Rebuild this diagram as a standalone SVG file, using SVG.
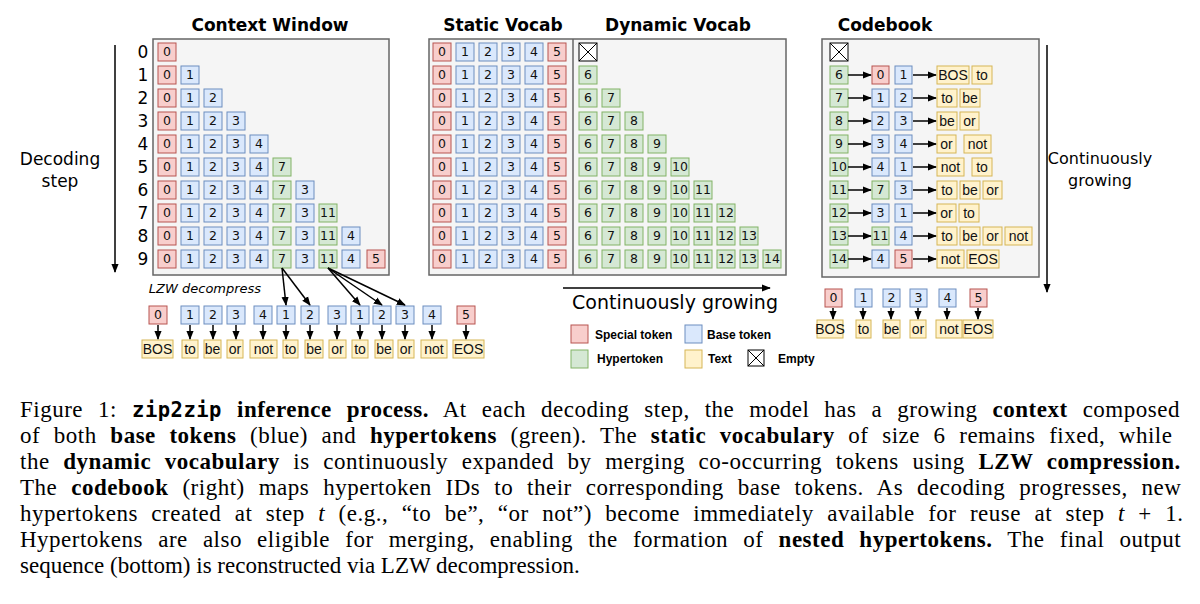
<svg xmlns="http://www.w3.org/2000/svg" width="1200" height="604" viewBox="0 0 1200 604">
<defs>
<style>
.r{fill:#f8cecc;stroke:#b85450}.b{fill:#dae8fc;stroke:#6c8ebf}.g{fill:#d5e8d4;stroke:#82b366}.y{fill:#fff2cc;stroke:#d6b656}
.box{fill:#f5f5f5;stroke:#666;stroke-width:1.5}
text{font-family:"DejaVu Sans",sans-serif}
.c{font-size:12.5px;text-anchor:middle;fill:#111}
.t{font-size:14px;text-anchor:middle;fill:#111;font-family:"Liberation Sans",sans-serif}
.h{font-size:17px;font-weight:bold;text-anchor:middle}
.n{font-size:17px;text-anchor:middle}
text.cap{font-family:"Liberation Serif",serif;font-size:23px;letter-spacing:0.5px}
.mono{font-family:"DejaVu Sans Mono",monospace;font-weight:bold;font-size:20.5px}
.ln{stroke:#000;stroke-width:1.5;fill:none}
</style>
<marker id="a" viewBox="0 0 10 10" refX="9" refY="5" markerWidth="6" markerHeight="6" orient="auto"><path d="M0,1L10,5L0,9z"/></marker>
</defs>
<rect width="1200" height="604" fill="#fff"/>
<g id="headings">
<text class="h" x="270" y="31">Context Window</text>
<text class="h" x="503" y="31">Static Vocab</text>
<text class="h" x="678" y="31">Dynamic Vocab</text>
<text class="h" x="885" y="31">Codebook</text>
<text class="n" x="60" y="165">Decoding</text><text class="n" x="60" y="187">step</text>
<text class="n" x="1100" y="164" style="font-size:16px">Continuously</text><text class="n" x="1100" y="186" style="font-size:16px">growing</text>
<text class="n" x="143" y="58">0</text><text class="n" x="143" y="81">1</text><text class="n" x="143" y="104">2</text><text class="n" x="143" y="127">3</text><text class="n" x="143" y="150">4</text><text class="n" x="143" y="173">5</text><text class="n" x="143" y="196">6</text><text class="n" x="143" y="219">7</text><text class="n" x="143" y="242">8</text><text class="n" x="143" y="265">9</text>
<text x="205" y="293" style="font-size:13px;font-style:italic" text-anchor="middle">LZW decompress</text>
<text class="n" x="675" y="309" style="font-size:19px">Continuously growing</text>
</g>
<g id="context-window">
<rect class="box" x="153" y="39" width="236" height="236"/>
<g id="cw-cells">
<rect class="r" x="158" y="43" width="18" height="18"/><text class="c" x="167" y="56">0</text>
<rect class="r" x="158" y="66" width="18" height="18"/><text class="c" x="167" y="79">0</text><rect class="b" x="181" y="66" width="18" height="18"/><text class="c" x="190" y="79">1</text>
<rect class="r" x="158" y="89" width="18" height="18"/><text class="c" x="167" y="102">0</text><rect class="b" x="181" y="89" width="18" height="18"/><text class="c" x="190" y="102">1</text><rect class="b" x="204" y="89" width="18" height="18"/><text class="c" x="213" y="102">2</text>
<rect class="r" x="158" y="112" width="18" height="18"/><text class="c" x="167" y="125">0</text><rect class="b" x="181" y="112" width="18" height="18"/><text class="c" x="190" y="125">1</text><rect class="b" x="204" y="112" width="18" height="18"/><text class="c" x="213" y="125">2</text><rect class="b" x="227" y="112" width="18" height="18"/><text class="c" x="236" y="125">3</text>
<rect class="r" x="158" y="135" width="18" height="18"/><text class="c" x="167" y="148">0</text><rect class="b" x="181" y="135" width="18" height="18"/><text class="c" x="190" y="148">1</text><rect class="b" x="204" y="135" width="18" height="18"/><text class="c" x="213" y="148">2</text><rect class="b" x="227" y="135" width="18" height="18"/><text class="c" x="236" y="148">3</text><rect class="b" x="250" y="135" width="18" height="18"/><text class="c" x="259" y="148">4</text>
<rect class="r" x="158" y="158" width="18" height="18"/><text class="c" x="167" y="171">0</text><rect class="b" x="181" y="158" width="18" height="18"/><text class="c" x="190" y="171">1</text><rect class="b" x="204" y="158" width="18" height="18"/><text class="c" x="213" y="171">2</text><rect class="b" x="227" y="158" width="18" height="18"/><text class="c" x="236" y="171">3</text><rect class="b" x="250" y="158" width="18" height="18"/><text class="c" x="259" y="171">4</text><rect class="g" x="273" y="158" width="18" height="18"/><text class="c" x="282" y="171">7</text>
<rect class="r" x="158" y="181" width="18" height="18"/><text class="c" x="167" y="194">0</text><rect class="b" x="181" y="181" width="18" height="18"/><text class="c" x="190" y="194">1</text><rect class="b" x="204" y="181" width="18" height="18"/><text class="c" x="213" y="194">2</text><rect class="b" x="227" y="181" width="18" height="18"/><text class="c" x="236" y="194">3</text><rect class="b" x="250" y="181" width="18" height="18"/><text class="c" x="259" y="194">4</text><rect class="g" x="273" y="181" width="18" height="18"/><text class="c" x="282" y="194">7</text><rect class="b" x="296" y="181" width="18" height="18"/><text class="c" x="305" y="194">3</text>
<rect class="r" x="158" y="204" width="18" height="18"/><text class="c" x="167" y="217">0</text><rect class="b" x="181" y="204" width="18" height="18"/><text class="c" x="190" y="217">1</text><rect class="b" x="204" y="204" width="18" height="18"/><text class="c" x="213" y="217">2</text><rect class="b" x="227" y="204" width="18" height="18"/><text class="c" x="236" y="217">3</text><rect class="b" x="250" y="204" width="18" height="18"/><text class="c" x="259" y="217">4</text><rect class="g" x="273" y="204" width="18" height="18"/><text class="c" x="282" y="217">7</text><rect class="b" x="296" y="204" width="18" height="18"/><text class="c" x="305" y="217">3</text><rect class="g" x="319" y="204" width="18" height="18"/><text class="c" x="328" y="217">11</text>
<rect class="r" x="158" y="227" width="18" height="18"/><text class="c" x="167" y="240">0</text><rect class="b" x="181" y="227" width="18" height="18"/><text class="c" x="190" y="240">1</text><rect class="b" x="204" y="227" width="18" height="18"/><text class="c" x="213" y="240">2</text><rect class="b" x="227" y="227" width="18" height="18"/><text class="c" x="236" y="240">3</text><rect class="b" x="250" y="227" width="18" height="18"/><text class="c" x="259" y="240">4</text><rect class="g" x="273" y="227" width="18" height="18"/><text class="c" x="282" y="240">7</text><rect class="b" x="296" y="227" width="18" height="18"/><text class="c" x="305" y="240">3</text><rect class="g" x="319" y="227" width="18" height="18"/><text class="c" x="328" y="240">11</text><rect class="b" x="342" y="227" width="18" height="18"/><text class="c" x="351" y="240">4</text>
<rect class="r" x="158" y="250" width="18" height="18"/><text class="c" x="167" y="263">0</text><rect class="b" x="181" y="250" width="18" height="18"/><text class="c" x="190" y="263">1</text><rect class="b" x="204" y="250" width="18" height="18"/><text class="c" x="213" y="263">2</text><rect class="b" x="227" y="250" width="18" height="18"/><text class="c" x="236" y="263">3</text><rect class="b" x="250" y="250" width="18" height="18"/><text class="c" x="259" y="263">4</text><rect class="g" x="273" y="250" width="18" height="18"/><text class="c" x="282" y="263">7</text><rect class="b" x="296" y="250" width="18" height="18"/><text class="c" x="305" y="263">3</text><rect class="g" x="319" y="250" width="18" height="18"/><text class="c" x="328" y="263">11</text><rect class="b" x="342" y="250" width="18" height="18"/><text class="c" x="351" y="263">4</text><rect class="r" x="367" y="250" width="18" height="18"/><text class="c" x="376" y="263">5</text>
</g>
</g>
<g id="vocab">
<rect class="box" x="429" y="39" width="357" height="236"/>
<line x1="573" y1="39" x2="573" y2="275" stroke="#666" stroke-width="1.5"/>
<g id="static">
<g transform="translate(0,0)"><rect class="r" x="433" y="43" width="18" height="18"/><text class="c" x="442" y="56">0</text><rect class="b" x="456" y="43" width="18" height="18"/><text class="c" x="465" y="56">1</text><rect class="b" x="479" y="43" width="18" height="18"/><text class="c" x="488" y="56">2</text><rect class="b" x="502" y="43" width="18" height="18"/><text class="c" x="511" y="56">3</text><rect class="b" x="525" y="43" width="18" height="18"/><text class="c" x="534" y="56">4</text><rect class="r" x="548" y="43" width="18" height="18"/><text class="c" x="557" y="56">5</text></g>
<g transform="translate(0,23)"><rect class="r" x="433" y="43" width="18" height="18"/><text class="c" x="442" y="56">0</text><rect class="b" x="456" y="43" width="18" height="18"/><text class="c" x="465" y="56">1</text><rect class="b" x="479" y="43" width="18" height="18"/><text class="c" x="488" y="56">2</text><rect class="b" x="502" y="43" width="18" height="18"/><text class="c" x="511" y="56">3</text><rect class="b" x="525" y="43" width="18" height="18"/><text class="c" x="534" y="56">4</text><rect class="r" x="548" y="43" width="18" height="18"/><text class="c" x="557" y="56">5</text></g>
<g transform="translate(0,46)"><rect class="r" x="433" y="43" width="18" height="18"/><text class="c" x="442" y="56">0</text><rect class="b" x="456" y="43" width="18" height="18"/><text class="c" x="465" y="56">1</text><rect class="b" x="479" y="43" width="18" height="18"/><text class="c" x="488" y="56">2</text><rect class="b" x="502" y="43" width="18" height="18"/><text class="c" x="511" y="56">3</text><rect class="b" x="525" y="43" width="18" height="18"/><text class="c" x="534" y="56">4</text><rect class="r" x="548" y="43" width="18" height="18"/><text class="c" x="557" y="56">5</text></g>
<g transform="translate(0,69)"><rect class="r" x="433" y="43" width="18" height="18"/><text class="c" x="442" y="56">0</text><rect class="b" x="456" y="43" width="18" height="18"/><text class="c" x="465" y="56">1</text><rect class="b" x="479" y="43" width="18" height="18"/><text class="c" x="488" y="56">2</text><rect class="b" x="502" y="43" width="18" height="18"/><text class="c" x="511" y="56">3</text><rect class="b" x="525" y="43" width="18" height="18"/><text class="c" x="534" y="56">4</text><rect class="r" x="548" y="43" width="18" height="18"/><text class="c" x="557" y="56">5</text></g>
<g transform="translate(0,92)"><rect class="r" x="433" y="43" width="18" height="18"/><text class="c" x="442" y="56">0</text><rect class="b" x="456" y="43" width="18" height="18"/><text class="c" x="465" y="56">1</text><rect class="b" x="479" y="43" width="18" height="18"/><text class="c" x="488" y="56">2</text><rect class="b" x="502" y="43" width="18" height="18"/><text class="c" x="511" y="56">3</text><rect class="b" x="525" y="43" width="18" height="18"/><text class="c" x="534" y="56">4</text><rect class="r" x="548" y="43" width="18" height="18"/><text class="c" x="557" y="56">5</text></g>
<g transform="translate(0,115)"><rect class="r" x="433" y="43" width="18" height="18"/><text class="c" x="442" y="56">0</text><rect class="b" x="456" y="43" width="18" height="18"/><text class="c" x="465" y="56">1</text><rect class="b" x="479" y="43" width="18" height="18"/><text class="c" x="488" y="56">2</text><rect class="b" x="502" y="43" width="18" height="18"/><text class="c" x="511" y="56">3</text><rect class="b" x="525" y="43" width="18" height="18"/><text class="c" x="534" y="56">4</text><rect class="r" x="548" y="43" width="18" height="18"/><text class="c" x="557" y="56">5</text></g>
<g transform="translate(0,138)"><rect class="r" x="433" y="43" width="18" height="18"/><text class="c" x="442" y="56">0</text><rect class="b" x="456" y="43" width="18" height="18"/><text class="c" x="465" y="56">1</text><rect class="b" x="479" y="43" width="18" height="18"/><text class="c" x="488" y="56">2</text><rect class="b" x="502" y="43" width="18" height="18"/><text class="c" x="511" y="56">3</text><rect class="b" x="525" y="43" width="18" height="18"/><text class="c" x="534" y="56">4</text><rect class="r" x="548" y="43" width="18" height="18"/><text class="c" x="557" y="56">5</text></g>
<g transform="translate(0,161)"><rect class="r" x="433" y="43" width="18" height="18"/><text class="c" x="442" y="56">0</text><rect class="b" x="456" y="43" width="18" height="18"/><text class="c" x="465" y="56">1</text><rect class="b" x="479" y="43" width="18" height="18"/><text class="c" x="488" y="56">2</text><rect class="b" x="502" y="43" width="18" height="18"/><text class="c" x="511" y="56">3</text><rect class="b" x="525" y="43" width="18" height="18"/><text class="c" x="534" y="56">4</text><rect class="r" x="548" y="43" width="18" height="18"/><text class="c" x="557" y="56">5</text></g>
<g transform="translate(0,184)"><rect class="r" x="433" y="43" width="18" height="18"/><text class="c" x="442" y="56">0</text><rect class="b" x="456" y="43" width="18" height="18"/><text class="c" x="465" y="56">1</text><rect class="b" x="479" y="43" width="18" height="18"/><text class="c" x="488" y="56">2</text><rect class="b" x="502" y="43" width="18" height="18"/><text class="c" x="511" y="56">3</text><rect class="b" x="525" y="43" width="18" height="18"/><text class="c" x="534" y="56">4</text><rect class="r" x="548" y="43" width="18" height="18"/><text class="c" x="557" y="56">5</text></g>
<g transform="translate(0,207)"><rect class="r" x="433" y="43" width="18" height="18"/><text class="c" x="442" y="56">0</text><rect class="b" x="456" y="43" width="18" height="18"/><text class="c" x="465" y="56">1</text><rect class="b" x="479" y="43" width="18" height="18"/><text class="c" x="488" y="56">2</text><rect class="b" x="502" y="43" width="18" height="18"/><text class="c" x="511" y="56">3</text><rect class="b" x="525" y="43" width="18" height="18"/><text class="c" x="534" y="56">4</text><rect class="r" x="548" y="43" width="18" height="18"/><text class="c" x="557" y="56">5</text></g>
</g>
<g id="dynamic">
<rect x="579" y="43" width="18" height="18" fill="#fff" stroke="#000"/><path d="M579,43L597,61M597,43L579,61" stroke="#000"/>
<rect class="g" x="579" y="66" width="18" height="18"/><text class="c" x="588" y="79">6</text>
<rect class="g" x="579" y="89" width="18" height="18"/><text class="c" x="588" y="102">6</text><rect class="g" x="602" y="89" width="18" height="18"/><text class="c" x="611" y="102">7</text>
<rect class="g" x="579" y="112" width="18" height="18"/><text class="c" x="588" y="125">6</text><rect class="g" x="602" y="112" width="18" height="18"/><text class="c" x="611" y="125">7</text><rect class="g" x="625" y="112" width="18" height="18"/><text class="c" x="634" y="125">8</text>
<rect class="g" x="579" y="135" width="18" height="18"/><text class="c" x="588" y="148">6</text><rect class="g" x="602" y="135" width="18" height="18"/><text class="c" x="611" y="148">7</text><rect class="g" x="625" y="135" width="18" height="18"/><text class="c" x="634" y="148">8</text><rect class="g" x="648" y="135" width="18" height="18"/><text class="c" x="657" y="148">9</text>
<rect class="g" x="579" y="158" width="18" height="18"/><text class="c" x="588" y="171">6</text><rect class="g" x="602" y="158" width="18" height="18"/><text class="c" x="611" y="171">7</text><rect class="g" x="625" y="158" width="18" height="18"/><text class="c" x="634" y="171">8</text><rect class="g" x="648" y="158" width="18" height="18"/><text class="c" x="657" y="171">9</text><rect class="g" x="671" y="158" width="18" height="18"/><text class="c" x="680" y="171">10</text>
<rect class="g" x="579" y="181" width="18" height="18"/><text class="c" x="588" y="194">6</text><rect class="g" x="602" y="181" width="18" height="18"/><text class="c" x="611" y="194">7</text><rect class="g" x="625" y="181" width="18" height="18"/><text class="c" x="634" y="194">8</text><rect class="g" x="648" y="181" width="18" height="18"/><text class="c" x="657" y="194">9</text><rect class="g" x="671" y="181" width="18" height="18"/><text class="c" x="680" y="194">10</text><rect class="g" x="694" y="181" width="18" height="18"/><text class="c" x="703" y="194">11</text>
<rect class="g" x="579" y="204" width="18" height="18"/><text class="c" x="588" y="217">6</text><rect class="g" x="602" y="204" width="18" height="18"/><text class="c" x="611" y="217">7</text><rect class="g" x="625" y="204" width="18" height="18"/><text class="c" x="634" y="217">8</text><rect class="g" x="648" y="204" width="18" height="18"/><text class="c" x="657" y="217">9</text><rect class="g" x="671" y="204" width="18" height="18"/><text class="c" x="680" y="217">10</text><rect class="g" x="694" y="204" width="18" height="18"/><text class="c" x="703" y="217">11</text><rect class="g" x="717" y="204" width="18" height="18"/><text class="c" x="726" y="217">12</text>
<rect class="g" x="579" y="227" width="18" height="18"/><text class="c" x="588" y="240">6</text><rect class="g" x="602" y="227" width="18" height="18"/><text class="c" x="611" y="240">7</text><rect class="g" x="625" y="227" width="18" height="18"/><text class="c" x="634" y="240">8</text><rect class="g" x="648" y="227" width="18" height="18"/><text class="c" x="657" y="240">9</text><rect class="g" x="671" y="227" width="18" height="18"/><text class="c" x="680" y="240">10</text><rect class="g" x="694" y="227" width="18" height="18"/><text class="c" x="703" y="240">11</text><rect class="g" x="717" y="227" width="18" height="18"/><text class="c" x="726" y="240">12</text><rect class="g" x="740" y="227" width="18" height="18"/><text class="c" x="749" y="240">13</text>
<rect class="g" x="579" y="250" width="18" height="18"/><text class="c" x="588" y="263">6</text><rect class="g" x="602" y="250" width="18" height="18"/><text class="c" x="611" y="263">7</text><rect class="g" x="625" y="250" width="18" height="18"/><text class="c" x="634" y="263">8</text><rect class="g" x="648" y="250" width="18" height="18"/><text class="c" x="657" y="263">9</text><rect class="g" x="671" y="250" width="18" height="18"/><text class="c" x="680" y="263">10</text><rect class="g" x="694" y="250" width="18" height="18"/><text class="c" x="703" y="263">11</text><rect class="g" x="717" y="250" width="18" height="18"/><text class="c" x="726" y="263">12</text><rect class="g" x="740" y="250" width="18" height="18"/><text class="c" x="749" y="263">13</text><rect class="g" x="763" y="250" width="18" height="18"/><text class="c" x="772" y="263">14</text>
</g>
</g>
<g id="codebook">
<rect class="box" x="822" y="39" width="217" height="238"/>
<rect x="830" y="43" width="18" height="18" fill="#fff" stroke="#000"/><path d="M830,43L848,61M848,43L830,61" stroke="#000"/>
<g class="cbrow"><rect class="g" x="830" y="66" width="18" height="18"/><text class="c" x="839" y="79">6</text><rect class="r" x="872" y="66" width="17" height="18"/><text class="c" x="880.5" y="79">0</text><rect class="b" x="895" y="66" width="17" height="18"/><text class="c" x="903.5" y="79">1</text><rect class="y" x="937" y="66" width="32" height="18"/><text class="t" x="953" y="80">BOS</text><rect class="y" x="972" y="66" width="20" height="18"/><text class="t" x="982" y="80">to</text></g>
<g class="cbrow"><rect class="g" x="830" y="89" width="18" height="18"/><text class="c" x="839" y="102">7</text><rect class="b" x="872" y="89" width="17" height="18"/><text class="c" x="880.5" y="102">1</text><rect class="b" x="895" y="89" width="17" height="18"/><text class="c" x="903.5" y="102">2</text><rect class="y" x="937" y="89" width="20" height="18"/><text class="t" x="947" y="103">to</text><rect class="y" x="960" y="89" width="20" height="18"/><text class="t" x="970" y="103">be</text></g>
<g class="cbrow"><rect class="g" x="830" y="112" width="18" height="18"/><text class="c" x="839" y="125">8</text><rect class="b" x="872" y="112" width="17" height="18"/><text class="c" x="880.5" y="125">2</text><rect class="b" x="895" y="112" width="17" height="18"/><text class="c" x="903.5" y="125">3</text><rect class="y" x="937" y="112" width="20" height="18"/><text class="t" x="947" y="126">be</text><rect class="y" x="960" y="112" width="19" height="18"/><text class="t" x="969.5" y="126">or</text></g>
<g class="cbrow"><rect class="g" x="830" y="135" width="18" height="18"/><text class="c" x="839" y="148">9</text><rect class="b" x="872" y="135" width="17" height="18"/><text class="c" x="880.5" y="148">3</text><rect class="b" x="895" y="135" width="17" height="18"/><text class="c" x="903.5" y="148">4</text><rect class="y" x="937" y="135" width="19" height="18"/><text class="t" x="946.5" y="149">or</text><rect class="y" x="964" y="135" width="27" height="18"/><text class="t" x="977.5" y="149">not</text></g>
<g class="cbrow"><rect class="g" x="830" y="158" width="18" height="18"/><text class="c" x="839" y="171">10</text><rect class="b" x="872" y="158" width="17" height="18"/><text class="c" x="880.5" y="171">4</text><rect class="b" x="895" y="158" width="17" height="18"/><text class="c" x="903.5" y="171">1</text><rect class="y" x="937" y="158" width="27" height="18"/><text class="t" x="950.5" y="172">not</text><rect class="y" x="972" y="158" width="20" height="18"/><text class="t" x="982" y="172">to</text></g>
<g class="cbrow"><rect class="g" x="830" y="181" width="18" height="18"/><text class="c" x="839" y="194">11</text><rect class="g" x="872" y="181" width="17" height="18"/><text class="c" x="880.5" y="194">7</text><rect class="b" x="895" y="181" width="17" height="18"/><text class="c" x="903.5" y="194">3</text><rect class="y" x="937" y="181" width="20" height="18"/><text class="t" x="947" y="195">to</text><rect class="y" x="960" y="181" width="20" height="18"/><text class="t" x="970" y="195">be</text><rect class="y" x="983" y="181" width="19" height="18"/><text class="t" x="992.5" y="195">or</text></g>
<g class="cbrow"><rect class="g" x="830" y="204" width="18" height="18"/><text class="c" x="839" y="217">12</text><rect class="b" x="872" y="204" width="17" height="18"/><text class="c" x="880.5" y="217">3</text><rect class="b" x="895" y="204" width="17" height="18"/><text class="c" x="903.5" y="217">1</text><rect class="y" x="937" y="204" width="19" height="18"/><text class="t" x="946.5" y="218">or</text><rect class="y" x="959" y="204" width="20" height="18"/><text class="t" x="969" y="218">to</text></g>
<g class="cbrow"><rect class="g" x="830" y="227" width="18" height="18"/><text class="c" x="839" y="240">13</text><rect class="g" x="872" y="227" width="17" height="18"/><text class="c" x="880.5" y="240">11</text><rect class="b" x="895" y="227" width="17" height="18"/><text class="c" x="903.5" y="240">4</text><rect class="y" x="937" y="227" width="20" height="18"/><text class="t" x="947" y="241">to</text><rect class="y" x="960" y="227" width="20" height="18"/><text class="t" x="970" y="241">be</text><rect class="y" x="983" y="227" width="19" height="18"/><text class="t" x="992.5" y="241">or</text><rect class="y" x="1005" y="227" width="27" height="18"/><text class="t" x="1018.5" y="241">not</text></g>
<g class="cbrow"><rect class="g" x="830" y="250" width="18" height="18"/><text class="c" x="839" y="263">14</text><rect class="b" x="872" y="250" width="17" height="18"/><text class="c" x="880.5" y="263">4</text><rect class="r" x="895" y="250" width="17" height="18"/><text class="c" x="903.5" y="263">5</text><rect class="y" x="937" y="250" width="27" height="18"/><text class="t" x="950.5" y="264">not</text><rect class="y" x="967" y="250" width="32" height="18"/><text class="t" x="983" y="264">EOS</text></g>
</g>
<g id="codebook-legend">
<rect class="r" x="825" y="289" width="17" height="18"/><text class="c" x="833.5" y="302">0</text>
<rect class="b" x="855" y="289" width="17" height="18"/><text class="c" x="863.5" y="302">1</text>
<rect class="b" x="883" y="289" width="17" height="18"/><text class="c" x="891.5" y="302">2</text>
<rect class="b" x="910" y="289" width="17" height="18"/><text class="c" x="918.5" y="302">3</text>
<rect class="b" x="939" y="289" width="17" height="18"/><text class="c" x="947.5" y="302">4</text>
<rect class="r" x="970" y="289" width="17" height="18"/><text class="c" x="978.5" y="302">5</text>
<rect class="y" x="817" y="320" width="26" height="18"/><text class="t" x="830" y="334">BOS</text>
<rect class="y" x="856" y="320" width="15" height="18"/><text class="t" x="863.5" y="334">to</text>
<rect class="y" x="883" y="320" width="17" height="18"/><text class="t" x="891.5" y="334">be</text>
<rect class="y" x="910" y="320" width="16" height="18"/><text class="t" x="918" y="334">or</text>
<rect class="y" x="936" y="320" width="26" height="18"/><text class="t" x="949" y="334">not</text>
<rect class="y" x="963" y="320" width="30" height="18"/><text class="t" x="978" y="334">EOS</text>
</g>
<g id="output-sequence">
<rect class="r" x="149" y="306" width="18" height="18"/><text class="c" x="158" y="319">0</text>
<rect class="b" x="181" y="306" width="18" height="18"/><text class="c" x="190" y="319">1</text>
<rect class="b" x="204" y="306" width="18" height="18"/><text class="c" x="213" y="319">2</text>
<rect class="b" x="227" y="306" width="18" height="18"/><text class="c" x="236" y="319">3</text>
<rect class="b" x="254" y="306" width="18" height="18"/><text class="c" x="263" y="319">4</text>
<rect class="b" x="277" y="306" width="18" height="18"/><text class="c" x="286" y="319">1</text>
<rect class="b" x="301" y="306" width="18" height="18"/><text class="c" x="310" y="319">2</text>
<rect class="b" x="328" y="306" width="18" height="18"/><text class="c" x="337" y="319">3</text>
<rect class="b" x="351" y="306" width="18" height="18"/><text class="c" x="360" y="319">1</text>
<rect class="b" x="373" y="306" width="18" height="18"/><text class="c" x="382" y="319">2</text>
<rect class="b" x="396" y="306" width="18" height="18"/><text class="c" x="405" y="319">3</text>
<rect class="b" x="423" y="306" width="18" height="18"/><text class="c" x="432" y="319">4</text>
<rect class="r" x="457" y="306" width="18" height="18"/><text class="c" x="466" y="319">5</text>
<rect class="y" x="142" y="340" width="31" height="18"/><text class="t" x="157.5" y="354">BOS</text>
<rect class="y" x="182" y="340" width="16" height="18"/><text class="t" x="190" y="354">to</text>
<rect class="y" x="204" y="340" width="17" height="18"/><text class="t" x="212.5" y="354">be</text>
<rect class="y" x="227" y="340" width="16" height="18"/><text class="t" x="235" y="354">or</text>
<rect class="y" x="250" y="340" width="27" height="18"/><text class="t" x="263.5" y="354">not</text>
<rect class="y" x="283" y="340" width="15" height="18"/><text class="t" x="290.5" y="354">to</text>
<rect class="y" x="305" y="340" width="18" height="18"/><text class="t" x="314" y="354">be</text>
<rect class="y" x="329" y="340" width="17" height="18"/><text class="t" x="337.5" y="354">or</text>
<rect class="y" x="352" y="340" width="16" height="18"/><text class="t" x="360" y="354">to</text>
<rect class="y" x="375" y="340" width="18" height="18"/><text class="t" x="384" y="354">be</text>
<rect class="y" x="398" y="340" width="16" height="18"/><text class="t" x="406" y="354">or</text>
<rect class="y" x="421" y="340" width="26" height="18"/><text class="t" x="434" y="354">not</text>
<rect class="y" x="453" y="340" width="31" height="18"/><text class="t" x="468.5" y="354">EOS</text>
</g>
<g id="legend">
<rect class="r" x="571" y="325" width="17" height="18"/><text x="595" y="339" style="font-size:12px;font-weight:bold;font-family:'Liberation Sans',sans-serif">Special token</text>
<rect class="b" x="685" y="325" width="17" height="18"/><text x="707" y="339" style="font-size:12px;font-weight:bold;font-family:'Liberation Sans',sans-serif">Base token</text>
<rect class="g" x="571" y="350" width="17" height="18"/><text x="597" y="363" style="font-size:12px;font-weight:bold;font-family:'Liberation Sans',sans-serif">Hypertoken</text>
<rect class="y" x="685" y="350" width="17" height="18"/><text x="708" y="363" style="font-size:12px;font-weight:bold;font-family:'Liberation Sans',sans-serif">Text</text>
<rect x="748" y="350" width="16" height="16" fill="#fff" stroke="#000"/><path d="M748,350L764,366M764,350L748,366" stroke="#000"/>
<text x="778" y="363" style="font-size:12px;font-weight:bold;font-family:'Liberation Sans',sans-serif">Empty</text>
</g>
<g id="connectors">
<line class="ln" x1="115" y1="45" x2="115" y2="272" marker-end="url(#a)"/>
<line class="ln" x1="1047" y1="45" x2="1047" y2="292" marker-end="url(#a)"/>
<line class="ln" x1="563" y1="288" x2="770" y2="288" marker-end="url(#a)"/>
<line class="ln" x1="848" y1="75" x2="871" y2="75" marker-end="url(#a)"/><line class="ln" x1="913" y1="75" x2="936" y2="75" marker-end="url(#a)"/>
<line class="ln" x1="848" y1="98" x2="871" y2="98" marker-end="url(#a)"/><line class="ln" x1="913" y1="98" x2="936" y2="98" marker-end="url(#a)"/>
<line class="ln" x1="848" y1="121" x2="871" y2="121" marker-end="url(#a)"/><line class="ln" x1="913" y1="121" x2="936" y2="121" marker-end="url(#a)"/>
<line class="ln" x1="848" y1="144" x2="871" y2="144" marker-end="url(#a)"/><line class="ln" x1="913" y1="144" x2="936" y2="144" marker-end="url(#a)"/>
<line class="ln" x1="848" y1="167" x2="871" y2="167" marker-end="url(#a)"/><line class="ln" x1="913" y1="167" x2="936" y2="167" marker-end="url(#a)"/>
<line class="ln" x1="848" y1="190" x2="871" y2="190" marker-end="url(#a)"/><line class="ln" x1="913" y1="190" x2="936" y2="190" marker-end="url(#a)"/>
<line class="ln" x1="848" y1="213" x2="871" y2="213" marker-end="url(#a)"/><line class="ln" x1="913" y1="213" x2="936" y2="213" marker-end="url(#a)"/>
<line class="ln" x1="848" y1="236" x2="871" y2="236" marker-end="url(#a)"/><line class="ln" x1="913" y1="236" x2="936" y2="236" marker-end="url(#a)"/>
<line class="ln" x1="848" y1="259" x2="871" y2="259" marker-end="url(#a)"/><line class="ln" x1="913" y1="259" x2="936" y2="259" marker-end="url(#a)"/>
<line class="ln" x1="282" y1="268" x2="286" y2="305" marker-end="url(#a)"/>
<line class="ln" x1="282" y1="268" x2="310" y2="305" marker-end="url(#a)"/>
<line class="ln" x1="328" y1="268" x2="360" y2="305" marker-end="url(#a)"/>
<line class="ln" x1="328" y1="268" x2="382" y2="305" marker-end="url(#a)"/>
<line class="ln" x1="328" y1="268" x2="405" y2="305" marker-end="url(#a)"/>
<line class="ln" x1="158" y1="325" x2="158" y2="339" marker-end="url(#a)"/><line class="ln" x1="190" y1="325" x2="190" y2="339" marker-end="url(#a)"/><line class="ln" x1="213" y1="325" x2="213" y2="339" marker-end="url(#a)"/><line class="ln" x1="236" y1="325" x2="236" y2="339" marker-end="url(#a)"/><line class="ln" x1="263" y1="325" x2="263" y2="339" marker-end="url(#a)"/><line class="ln" x1="286" y1="325" x2="286" y2="339" marker-end="url(#a)"/><line class="ln" x1="310" y1="325" x2="310" y2="339" marker-end="url(#a)"/><line class="ln" x1="337" y1="325" x2="337" y2="339" marker-end="url(#a)"/><line class="ln" x1="360" y1="325" x2="360" y2="339" marker-end="url(#a)"/><line class="ln" x1="382" y1="325" x2="382" y2="339" marker-end="url(#a)"/><line class="ln" x1="405" y1="325" x2="405" y2="339" marker-end="url(#a)"/><line class="ln" x1="432" y1="325" x2="432" y2="339" marker-end="url(#a)"/><line class="ln" x1="466" y1="325" x2="466" y2="339" marker-end="url(#a)"/>
<line class="ln" x1="833" y1="308" x2="833" y2="319" marker-end="url(#a)"/><line class="ln" x1="863" y1="308" x2="863" y2="319" marker-end="url(#a)"/><line class="ln" x1="891" y1="308" x2="891" y2="319" marker-end="url(#a)"/><line class="ln" x1="918" y1="308" x2="918" y2="319" marker-end="url(#a)"/><line class="ln" x1="947" y1="308" x2="947" y2="319" marker-end="url(#a)"/><line class="ln" x1="978" y1="308" x2="978" y2="319" marker-end="url(#a)"/>
</g>
<g id="caption">
<text class="cap" x="20" y="417" word-spacing="8.8">Figure 1: <tspan class="mono">zip2zip</tspan><tspan font-weight="bold"> inference process.</tspan> At each decoding step, the model has a growing <tspan font-weight="bold">context</tspan> composed</text>
<text class="cap" x="20" y="443" word-spacing="7.4">of both <tspan font-weight="bold">base tokens</tspan> (blue) and <tspan font-weight="bold">hypertokens</tspan> (green). The <tspan font-weight="bold">static vocabulary</tspan> of size 6 remains fixed, while</text>
<text class="cap" x="20" y="469" word-spacing="7.4">the <tspan font-weight="bold">dynamic vocabulary</tspan> is continuously expanded by merging co-occurring tokens using <tspan font-weight="bold">LZW compression.</tspan></text>
<text class="cap" x="20" y="495" word-spacing="7.7">The <tspan font-weight="bold">codebook</tspan> (right) maps hypertoken IDs to their corresponding base tokens. As decoding progresses, new</text>
<text class="cap" x="20" y="521" word-spacing="7.2">hypertokens created at step <tspan font-style="italic">t</tspan> (e.g., “to be”, “or not”) become immediately available for reuse at step <tspan font-style="italic">t</tspan> + 1.</text>
<text class="cap" x="20" y="547" word-spacing="8.9">Hypertokens are also eligible for merging, enabling the formation of <tspan font-weight="bold">nested hypertokens.</tspan> The final output</text>
<text class="cap" x="20" y="573" style="letter-spacing:0">sequence (bottom) is reconstructed via LZW decompression.</text>
</g>
</svg>
